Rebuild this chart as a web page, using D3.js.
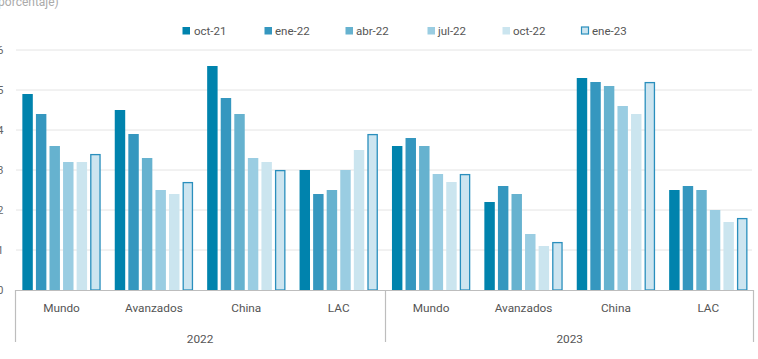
<!DOCTYPE html>
<html><head><meta charset="utf-8">
<script src="https://cdn.jsdelivr.net/npm/d3@7"></script>
<style>body{margin:0;background:#fff}svg{display:block;font-family:Roboto,"DejaVu Sans",sans-serif}</style>
</head><body><svg id="c" width="758" height="359"></svg>
<script>
const categories = ["Mundo","Avanzados","China","LAC"];
const years = ["2022","2023"];
const seriesNames = ["oct-21","ene-22","abr-22","jul-22","oct-22","ene-23"];
const oct21 = [4.9,4.5,5.6,3.0, 3.6,2.2,5.3,2.5];
const ene22 = [4.4,3.9,4.8,2.4, 3.8,2.6,5.2,2.6];
const abr22 = [3.6,3.3,4.4,2.5, 3.6,2.4,5.1,2.5];
const jul22 = [3.2,2.5,3.3,3.0, 2.9,1.4,4.6,2.0];
const oct22 = [3.2,2.4,3.2,3.5, 2.7,1.1,4.4,1.7];
const ene23 = [3.4,2.7,3.0,3.9, 2.9,1.2,5.2,1.8];
const yTicks = [0,1,2,3,4,5,6];

(function(){
const seriesValues = [oct21, ene22, abr22, jul22, oct22, ene23];
const colors = ["#0083ad","#3597bf","#66b2cf","#9acde2","#cbe5ef","#cde5f0"];
const groups = [];
years.forEach(yr => categories.forEach(c => groups.push(yr + "|" + c)));

const svg = d3.select("#c");
const mLeft = 15.3, mRight = 754.5, mTop = 50, mBottom = 290;
const x0 = d3.scaleBand().domain(groups).range([mLeft, mRight]).padding(0);
const x1 = d3.scaleBand().domain(seriesNames).range([0, x0.bandwidth()]).paddingInner(0.23).paddingOuter(0.52);
const y = d3.scaleLinear().domain([0, 6]).range([mBottom, mTop]);

// gridlines
svg.append("g").selectAll("line").data(yTicks.filter(d => d > 0)).join("line")
  .attr("x1", 16).attr("x2", 752).attr("y1", d => y(d)).attr("y2", d => y(d))
  .attr("stroke", "#e4e4e4").attr("stroke-width", 1);

// y tick labels (partly beyond the left edge, as in the reference)
svg.append("g").selectAll("text").data(yTicks).join("text")
  .attr("x", 3.5).attr("y", d => y(d)).attr("dy", "0.35em")
  .attr("text-anchor", "end").attr("font-size", 11).attr("fill", "#666")
  .text(d => d);

// bars
seriesNames.forEach((s, si) => {
  const outl = si === 5;
  svg.append("g").selectAll("rect").data(seriesValues[si]).join("rect")
    .attr("x", (d, i) => x0(groups[i]) + x1(s) + (outl ? 0.6 : 0))
    .attr("width", x1.bandwidth() - (outl ? 1.2 : 0))
    .attr("y", d => y(d) + (outl ? 0.6 : 0))
    .attr("height", d => mBottom - y(d) - (outl ? 0.6 : 0))
    .attr("fill", colors[si])
    .attr("stroke", outl ? "#2a8fbd" : "none")
    .attr("stroke-width", outl ? 1.3 : 0);
});

// axis lines
const ax = svg.append("g").attr("stroke", "#bdbdbd").attr("stroke-width", 1.2);
ax.append("line").attr("x1", 15).attr("x2", 753).attr("y1", mBottom + 0.5).attr("y2", mBottom + 0.5);
[mLeft, x0(groups[4]), 753].forEach(xv => {
  ax.append("line").attr("x1", Math.round(xv) + 0.5).attr("x2", Math.round(xv) + 0.5)
    .attr("y1", mBottom).attr("y2", 342);
});

// category labels
svg.append("g").selectAll("text").data(groups).join("text")
  .attr("x", d => x0(d) + x0.bandwidth() / 2).attr("y", 308).attr("dy", "0.35em")
  .attr("text-anchor", "middle").attr("font-size", 11.8).attr("fill", "#555")
  .text(d => d.split("|")[1]);

// year labels
svg.append("g").selectAll("text").data(years).join("text")
  .attr("x", (d, i) => (x0(groups[i * 4]) + x0(groups[i * 4 + 3]) + x0.bandwidth()) / 2)
  .attr("y", 339).attr("dy", "0.35em")
  .attr("text-anchor", "middle").attr("font-size", 11.8).attr("fill", "#555")
  .text(d => d);

// legend
const legX = [182, 264, 345, 427, 502, 581];
const lg = svg.append("g").selectAll("g").data(seriesNames).join("g")
  .attr("transform", (d, i) => `translate(${legX[i]},26.5)`);
lg.append("rect").attr("x", 0.5).attr("y", 0.5)
  .attr("width", (d, i) => i === 5 ? 7 : 7.5).attr("height", (d, i) => i === 5 ? 7 : 7.5)
  .attr("fill", (d, i) => colors[i])
  .attr("stroke", (d, i) => i === 5 ? "#2a8fbd" : "none").attr("stroke-width", 1.2);
lg.append("text").attr("x", (d, i) => i === 0 ? 12 : 11).attr("y", 4).attr("dy", "0.35em")
  .attr("font-size", 11.5).attr("fill", "#555").text(d => d);

// header unit text (partially cut at top, as in the reference)
svg.append("text").attr("x", -6).attr("y", 6).attr("font-size", 12).attr("fill", "#aaa").text("(porcentaje)");
})();
</script>
</body></html>
